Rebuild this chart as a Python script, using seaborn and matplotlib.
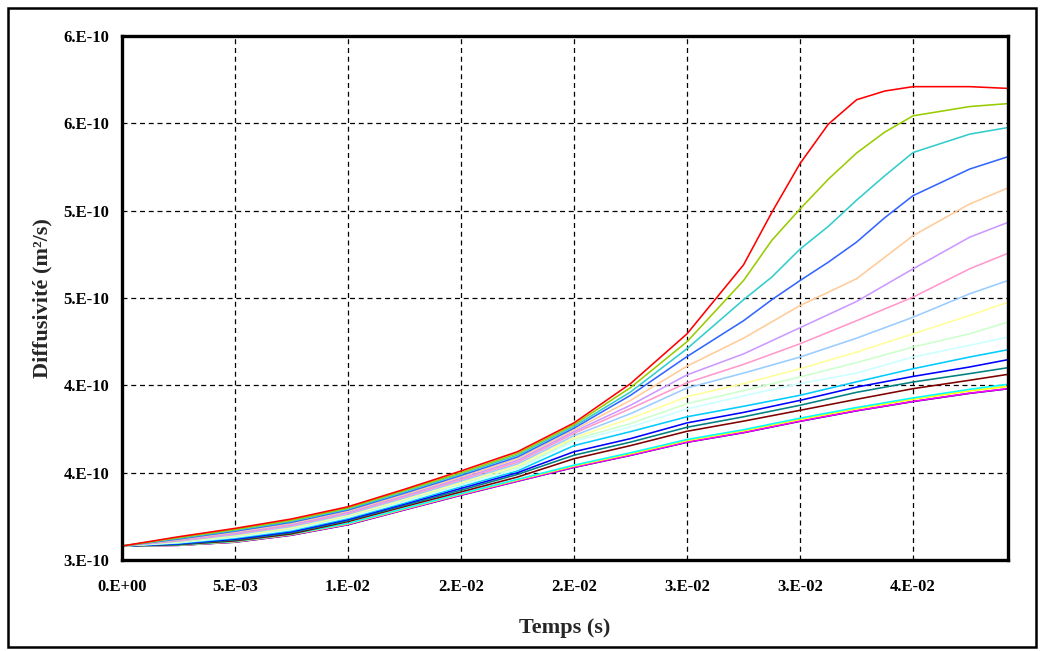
import matplotlib
matplotlib.use("Agg")
import matplotlib.pyplot as plt
import numpy as np
import pandas as pd
import seaborn as sns
from matplotlib.patches import Rectangle

# time samples (s)
temps = [0.0, 0.0025, 0.005, 0.0075, 0.01, 0.0125, 0.015, 0.0175, 0.02,
         0.0225, 0.025, 0.0275, 0.03, 0.0325, 0.035, 0.0375, 0.0392]
# finer sampling for the four steepest curves
temps_fin = [0.0, 0.0025, 0.005, 0.0075, 0.01, 0.0125, 0.015, 0.0175, 0.02,
             0.0225, 0.025, 0.0275, 0.02875, 0.03, 0.03125, 0.0325, 0.03375,
             0.035, 0.0375, 0.0392]

# diffusivity curves, in units of 1e-10 m2/s
rouge = [3.08, 3.133, 3.181, 3.235, 3.305, 3.405, 3.51, 3.62, 3.785, 4.01, 4.295, 4.69, 4.99, 5.27, 5.495, 5.635, 5.685, 5.71, 5.71, 5.70]
vert_olive = [3.08, 3.128, 3.175, 3.228, 3.298, 3.398, 3.50, 3.61, 3.775, 3.987, 4.25, 4.60, 4.83, 5.01, 5.18, 5.33, 5.45, 5.543, 5.596, 5.613]
turquoise = [3.08, 3.124, 3.170, 3.222, 3.292, 3.39, 3.492, 3.60, 3.765, 3.962, 4.21, 4.49, 4.62, 4.78, 4.91, 5.06, 5.2, 5.333, 5.438, 5.476]
bleu_moyen = [3.08, 3.12, 3.165, 3.216, 3.286, 3.383, 3.484, 3.59, 3.755, 3.943, 4.165, 4.37, 4.49, 4.60, 4.705, 4.82, 4.96, 5.086, 5.238, 5.309]
peche = [3.08, 3.117, 3.160, 3.21, 3.28, 3.376, 3.476, 3.58, 3.745, 3.914, 4.11, 4.27, 4.457, 4.61, 4.857, 5.038, 5.13]
lavande = [3.08, 3.114, 3.155, 3.204, 3.274, 3.369, 3.468, 3.57, 3.735, 3.886, 4.06, 4.18, 4.33, 4.48, 4.667, 4.848, 4.933]
rose = [3.08, 3.111, 3.150, 3.198, 3.268, 3.362, 3.46, 3.56, 3.725, 3.867, 4.015, 4.12, 4.238, 4.37, 4.505, 4.667, 4.756]
bleu_clair = [3.08, 3.108, 3.145, 3.192, 3.262, 3.355, 3.452, 3.55, 3.712, 3.838, 3.985, 4.07, 4.162, 4.27, 4.39, 4.524, 4.60]
jaune_clair = [3.08, 3.105, 3.140, 3.186, 3.256, 3.348, 3.444, 3.54, 3.70, 3.81, 3.935, 4.01, 4.095, 4.19, 4.295, 4.40, 4.476]
vert_clair = [3.08, 3.102, 3.135, 3.18, 3.25, 3.341, 3.436, 3.53, 3.69, 3.781, 3.895, 3.97, 4.048, 4.13, 4.219, 4.295, 4.362]
cyan_clair = [3.08, 3.099, 3.130, 3.174, 3.244, 3.334, 3.428, 3.52, 3.68, 3.762, 3.865, 3.94, 4.01, 4.07, 4.162, 4.229, 4.276]
bleu_ciel = [3.08, 3.096, 3.125, 3.168, 3.238, 3.327, 3.42, 3.51, 3.655, 3.735, 3.82, 3.88, 3.943, 4.02, 4.095, 4.162, 4.204]
bleu = [3.08, 3.093, 3.12, 3.162, 3.232, 3.32, 3.41, 3.50, 3.62, 3.695, 3.785, 3.845, 3.914, 3.99, 4.051, 4.105, 4.147]
sarcelle = [3.08, 3.09, 3.115, 3.156, 3.226, 3.313, 3.40, 3.49, 3.60, 3.675, 3.76, 3.82, 3.886, 3.96, 4.019, 4.067, 4.101]
bordeaux = [3.08, 3.088, 3.11, 3.15, 3.22, 3.306, 3.39, 3.475, 3.58, 3.655, 3.737, 3.795, 3.857, 3.92, 3.981, 4.029, 4.063]
cyan = [3.08, 3.086, 3.107, 3.148, 3.21, 3.295, 3.38, 3.462, 3.543, 3.614, 3.69, 3.746, 3.812, 3.873, 3.928, 3.977, 4.006]
jaune = [3.08, 3.085, 3.105, 3.146, 3.207, 3.292, 3.377, 3.458, 3.538, 3.608, 3.684, 3.74, 3.805, 3.866, 3.92, 3.968, 3.994]
marine = [3.08, 3.084, 3.102, 3.142, 3.202, 3.287, 3.371, 3.451, 3.530, 3.599, 3.674, 3.729, 3.794, 3.854, 3.907, 3.954, 3.98]
magenta = [3.08, 3.084, 3.103, 3.143, 3.203, 3.288, 3.372, 3.452, 3.531, 3.6, 3.675, 3.73, 3.795, 3.855, 3.908, 3.955, 3.981]

# drawn bottom first so the red curve ends up on top
series = [
    ("marine", temps, marine, "#000080"),
    ("magenta", temps, magenta, "#FF00FF"),
    ("jaune", temps, jaune, "#FFFF00"),
    ("cyan", temps, cyan, "#00FFFF"),
    ("bordeaux", temps, bordeaux, "#800000"),
    ("sarcelle", temps, sarcelle, "#008080"),
    ("bleu", temps, bleu, "#0000FF"),
    ("bleu_ciel", temps, bleu_ciel, "#00CCFF"),
    ("cyan_clair", temps, cyan_clair, "#CCFFFF"),
    ("vert_clair", temps, vert_clair, "#CCFFCC"),
    ("jaune_clair", temps, jaune_clair, "#FFFF99"),
    ("bleu_clair", temps, bleu_clair, "#99CCFF"),
    ("rose", temps, rose, "#FF99CC"),
    ("lavande", temps, lavande, "#CC99FF"),
    ("peche", temps, peche, "#FFCC99"),
    ("bleu_moyen", temps_fin, bleu_moyen, "#3366FF"),
    ("turquoise", temps_fin, turquoise, "#33CCCC"),
    ("vert_olive", temps_fin, vert_olive, "#99CC00"),
    ("rouge", temps_fin, rouge, "#FF0000"),
]

x_ticks = [0.0, 0.005, 0.01, 0.015, 0.02, 0.025, 0.03, 0.035]
x_tick_labels = ["0.E+00", "5.E-03", "1.E-02", "2.E-02", "2.E-02", "3.E-02", "3.E-02", "4.E-02"]
y_ticks = [3.0e-10, 3.5e-10, 4.0e-10, 4.5e-10, 5.0e-10, 5.5e-10, 6.0e-10]
y_tick_labels = ["3.E-10", "4.E-10", "4.E-10", "5.E-10", "5.E-10", "6.E-10", "6.E-10"]

rows = []
for name, xs, vals, _ in series:
    for t, v in zip(xs, vals):
        rows.append({"Temps": t, "D": v * 1e-10, "serie": name})
df = pd.DataFrame(rows)
palette = {name: col for name, _, _, col in series}

sns.set_theme(style="white")
plt.rcParams["font.family"] = ["Liberation Serif", "DejaVu Serif"]
plt.rcParams["font.weight"] = "bold"

fig = plt.figure(figsize=(10.42, 6.51), dpi=100)
ax = fig.add_axes([122 / 1042, 1 - 560 / 651, (1008 - 122) / 1042, (560 - 36) / 651])

sns.lineplot(data=df, x="Temps", y="D", hue="serie", hue_order=[s[0] for s in series],
             palette=palette, linewidth=1.15, legend=False, ax=ax, estimator=None, sort=False)

ax.set_xlim(0, 0.0392)
ax.set_ylim(3.0e-10, 6.0e-10)
ax.set_xticks(x_ticks, x_tick_labels)
ax.set_yticks(y_ticks, y_tick_labels)
ax.grid(True, color="black", linestyle=(0, (4, 3)), linewidth=0.9)
ax.set_axisbelow(True)

for sp in ax.spines.values():
    sp.set_visible(True)
    sp.set_color("black")
    sp.set_linewidth(2.4)

ax.tick_params(axis="both", direction="out", length=3, width=2.2, color="black",
               labelsize=12, labelcolor="black")
ax.tick_params(axis="x", pad=11)
ax.tick_params(axis="y", pad=6)
for lab in ax.get_xticklabels() + ax.get_yticklabels():
    lab.set_fontweight("bold")

ax.set_xlabel("Temps (s)", fontsize=16, fontweight="bold", labelpad=16)
ax.set_ylabel("Diffusivité (m²/s)", fontsize=16, fontweight="bold", labelpad=8)

fig.patches.append(Rectangle((8 / 1042, 1 - 647 / 651), (1036 - 8) / 1042, (647 - 8) / 651,
                             transform=fig.transFigure, fill=False, edgecolor="black",
                             linewidth=1.8, zorder=10))

fig.savefig("out.png", dpi=100)
plt.close(fig)
